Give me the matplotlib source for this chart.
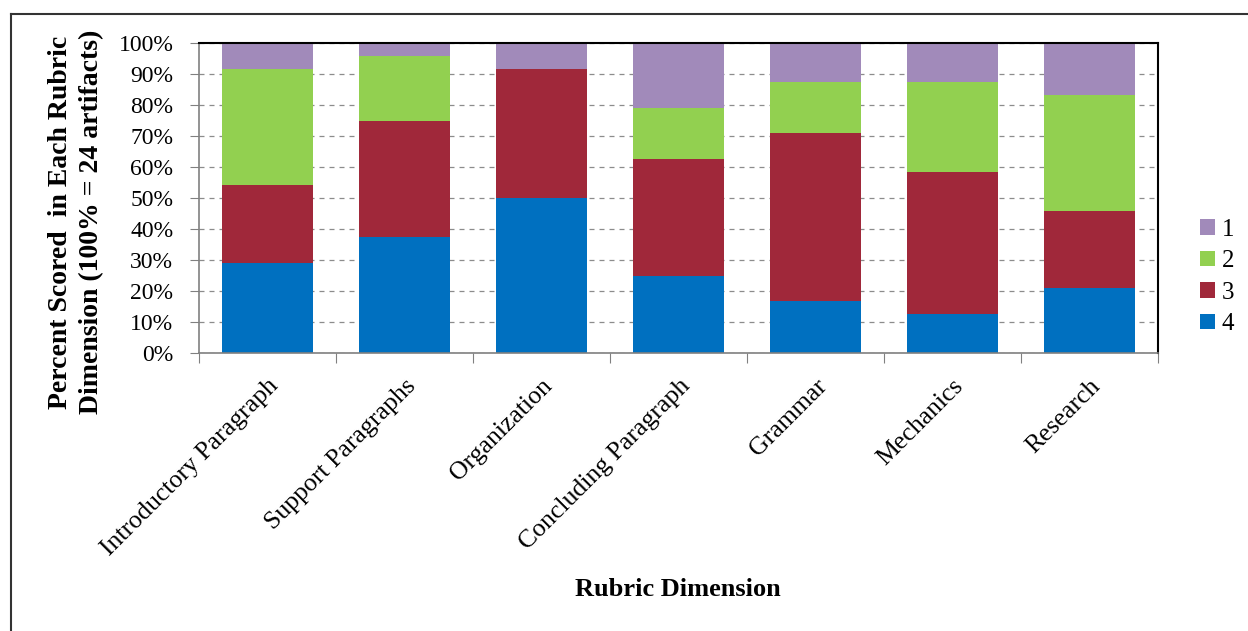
import matplotlib
matplotlib.use("Agg")
import matplotlib.pyplot as plt
from matplotlib.lines import Line2D
from matplotlib.patches import Patch
import numpy as np

plt.rcParams['font.family'] = ['Liberation Serif', 'DejaVu Serif']

categories = ["Introductory Paragraph", "Support Paragraphs", "Organization",
              "Concluding Paragraph", "Grammar", "Mechanics", "Research"]
# artifact counts per score (24 artifacts per dimension)
score4 = [7, 9, 12, 6, 4, 3, 5]
score3 = [6, 9, 10, 9, 13, 11, 6]
score2 = [9, 5, 0, 4, 4, 7, 9]
score1 = [2, 1, 2, 5, 3, 3, 4]
total = 24

series = [("4", score4, '#0070C0'), ("3", score3, '#A0283A'),
          ("2", score2, '#92D050'), ("1", score1, '#A18ABA')]

fig = plt.figure(figsize=(12.48, 6.31), dpi=100)
ax = fig.add_axes([199 / 1248, 1 - 353 / 631, (1158 - 199) / 1248, (353 - 43) / 631])

x = np.arange(len(categories))
bottom = np.zeros(len(categories))
for name, vals, col in series:
    pct = np.array(vals) / total * 100
    ax.bar(x, pct, bottom=bottom, width=0.66, color=col, zorder=2)
    bottom += pct

ax.set_xlim(-0.5, len(categories) - 0.5)
ax.set_ylim(0, 100)
ax.set_yticks(np.arange(0, 101, 10))
ax.set_yticklabels([f"{v}%" for v in range(0, 101, 10)], fontsize=17)
ax.yaxis.grid(True, linestyle=(0, (4, 4)), color='#8c8c8c', linewidth=0.9, zorder=0)

# category ticks sit between bars
ax.set_xticks(np.arange(-0.5, len(categories), 1), minor=False)
ax.set_xticklabels([])
ax.set_xticks(x, minor=True)
ax.set_xticklabels(categories, minor=True, rotation=45, ha='right',
                   rotation_mode='anchor', fontsize=18.5)
ax.tick_params(axis='x', which='minor', length=0, pad=16)
ax.tick_params(axis='x', which='major', length=7, color='#808080', direction='out')
ax.tick_params(axis='y', length=6.5, color='#808080', direction='out', pad=12)

for s in ['left', 'bottom']:
    ax.spines[s].set_color('#808080')
    ax.spines[s].set_linewidth(1.2)
for s in ['top', 'right']:
    ax.spines[s].set_color('black')
    ax.spines[s].set_linewidth(1.5)

fig.text(76 / 1248, 1 - 222 / 631,
         "Percent Scored  in Each Rubric\nDimension (100% = 24 artifacts)",
         fontsize=20, fontweight='bold', rotation=90, ha='center', va='center',
         multialignment='center', linespacing=1.3)
fig.text(678 / 1248, 1 - 589 / 631, "Rubric Dimension", fontsize=19,
         fontweight='bold', ha='center', va='center')

handles = [Patch(facecolor=col, edgecolor='none') for _, _, col in series][::-1]
labels = [name for name, _, _ in series][::-1]
fig.legend(handles, labels, loc='center left', bbox_to_anchor=(1177 / 1248, 1 - 277 / 631),
           frameon=False, fontsize=18, handlelength=0.6, handleheight=0.6,
           handletextpad=0.3, labelspacing=0.38)

# outer frame
fig.add_artist(Line2D([11 / 1248, 11 / 1248], [0, 1 - 14 / 631], transform=fig.transFigure,
                      color='#333333', linewidth=1.5))
fig.add_artist(Line2D([11 / 1248, 1], [1 - 14 / 631, 1 - 14 / 631], transform=fig.transFigure,
                      color='#333333', linewidth=1.5))

fig.savefig("out.png", dpi=100)
